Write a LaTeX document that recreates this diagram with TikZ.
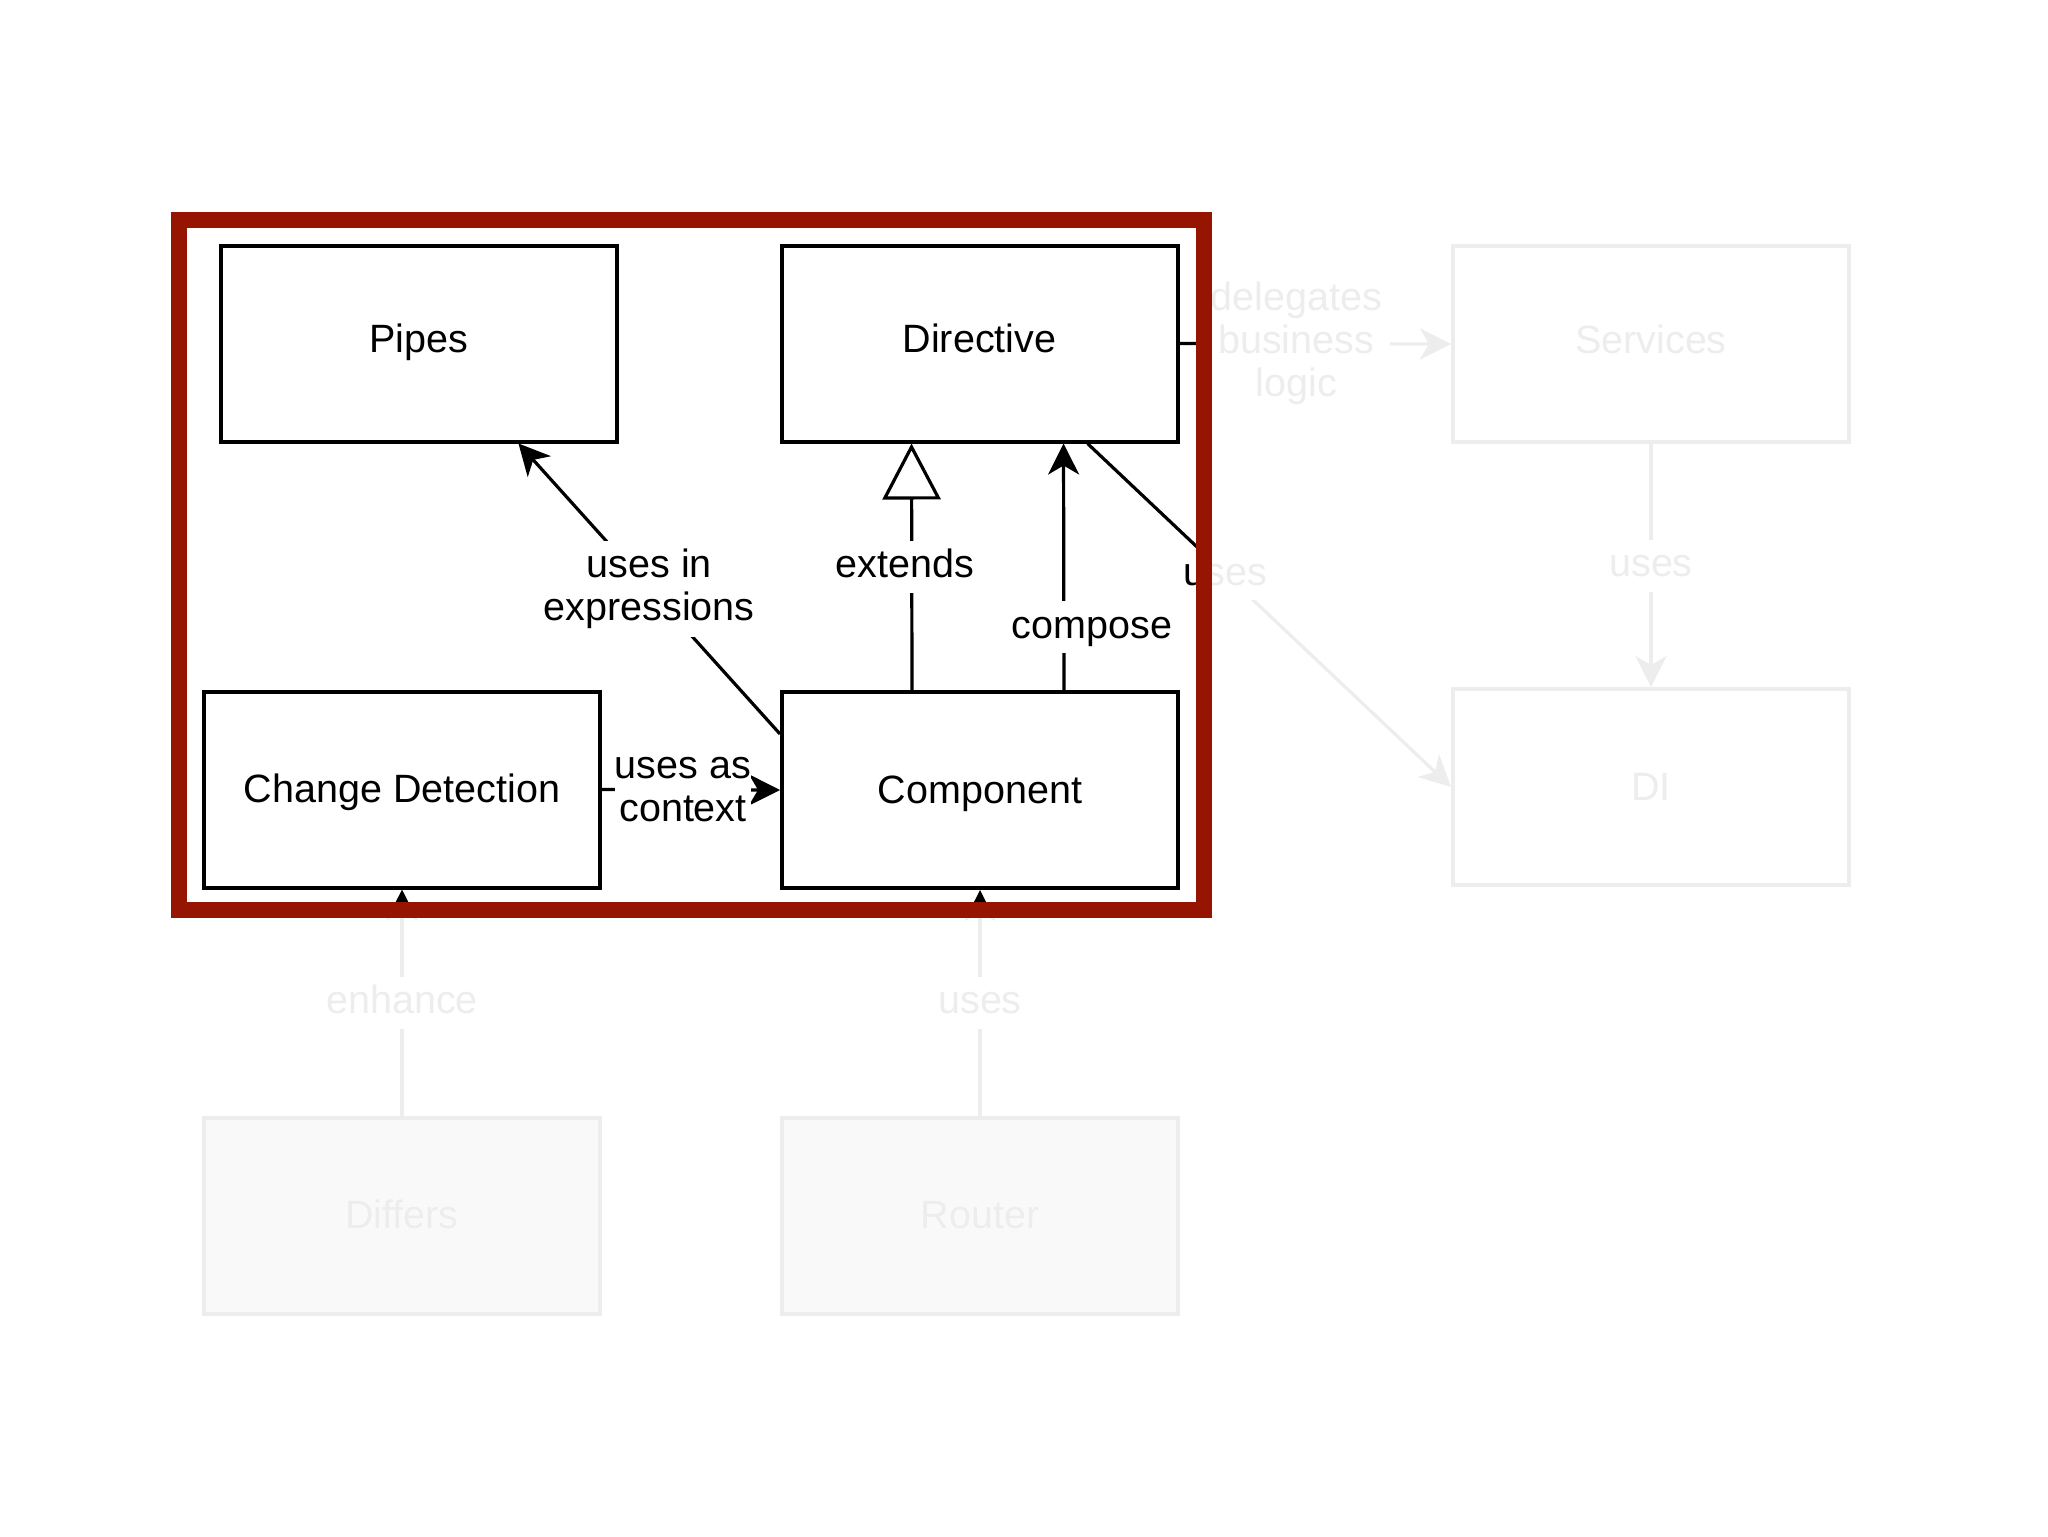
\documentclass[tikz,border=0pt]{standalone}
\usepackage{fontspec}
\setmainfont{Liberation Sans}
\usetikzlibrary{arrows.meta,calc}
\definecolor{framered}{RGB}{150,21,0}
\newcommand{\lblfont}{\fontsize{19.75pt}{21.5pt}\selectfont}
\begin{document}
\begin{tikzpicture}[x=0.5pt,y=-0.5pt,
  box/.style={draw=black, line width=2pt, fill=white, minimum width=198pt, minimum height=98pt, inner sep=0pt, font=\lblfont, text height=14.5pt},
  toprow/.style={text depth=5.5pt},
  botrow/.style={text depth=1.5pt},
  conn/.style={draw=black, line width=1.6pt},
  tipa/.style={-{Stealth[length=15.5pt,width=15.5pt,inset=4.5pt]}},
  tipext/.style={-{Triangle[length=28pt,width=29pt,fill=white]}},
  lbl/.style={fill=white, inner sep=4pt, align=center, font=\lblfont},
  lblone/.style={lbl, text height=14.5pt, text depth=3.5pt},
]
\useasboundingbox (0,0) rectangle (2048,1536);
\fill[white] (0,0) rectangle (2048,1536);

% boxes
\node[box, toprow] (pipes) at (418.5,343.5) {Pipes};
\node[box, toprow] (dir) at (979.5,343.5) {Directive};
\node[box, toprow] (serv) at (1651,344) {Services};
\node[box, botrow] (cd) at (402,789.5) {Change Detection};
\node[box, botrow] (comp) at (980,790) {Component};
\node[box, botrow] (di) at (1651,787) {DI};
\node[box, botrow, fill=black!28] (diff) at (402,1215.5) {Differs};
\node[box, botrow, fill=black!28] (router) at (980,1215.5) {Router};

% connectors
\draw[conn, tipa] ($(comp.north west)!0.22!(comp.south west)$) -- node[lbl] {uses in\\expressions} ($(pipes.south west)!0.75!(pipes.south east)$);
\draw[conn, tipext] ($(comp.north west)!0.33!(comp.north east)$) -- node[lblone, xshift=-3.5pt] {extends} ($(dir.south west)!0.33!(dir.south east)$);
\draw[conn, tipa] ($(comp.north west)!0.71!(comp.north east)$) -- node[lblone, pos=0.255, xshift=14pt] {compose} ($(dir.south west)!0.71!(dir.south east)$);
\draw[conn, tipa] (cd.east) -- node[lbl, inner xsep=0pt, xshift=-4pt] {uses as\\context} (comp.west);
\draw[conn, tipa] ($(dir.south west)!0.77!(dir.south east)$) -- node[lblone, pos=0.38] {uses} (di.west);
\draw[conn, tipa] (dir.east) -- node[lbl, pos=0.43] {delegates\\business\\logic} (serv.west);
\draw[conn, tipa] (serv.south) -- node[lblone] {uses} (di.north);
\draw[conn, tipa] (diff.north) -- node[lblone] {enhance} (cd.south);
\draw[conn, tipa] (router.north) -- node[lblone] {uses} (comp.south);

% fading overlay outside the highlight
\fill[white, fill opacity=0.93, even odd rule] (0,0) rectangle (2048,1536) (187,228) rectangle (1196,903);
% highlight frame
\draw[framered, line width=8pt] (179,220) rectangle (1204,910);
\end{tikzpicture}
\end{document}
